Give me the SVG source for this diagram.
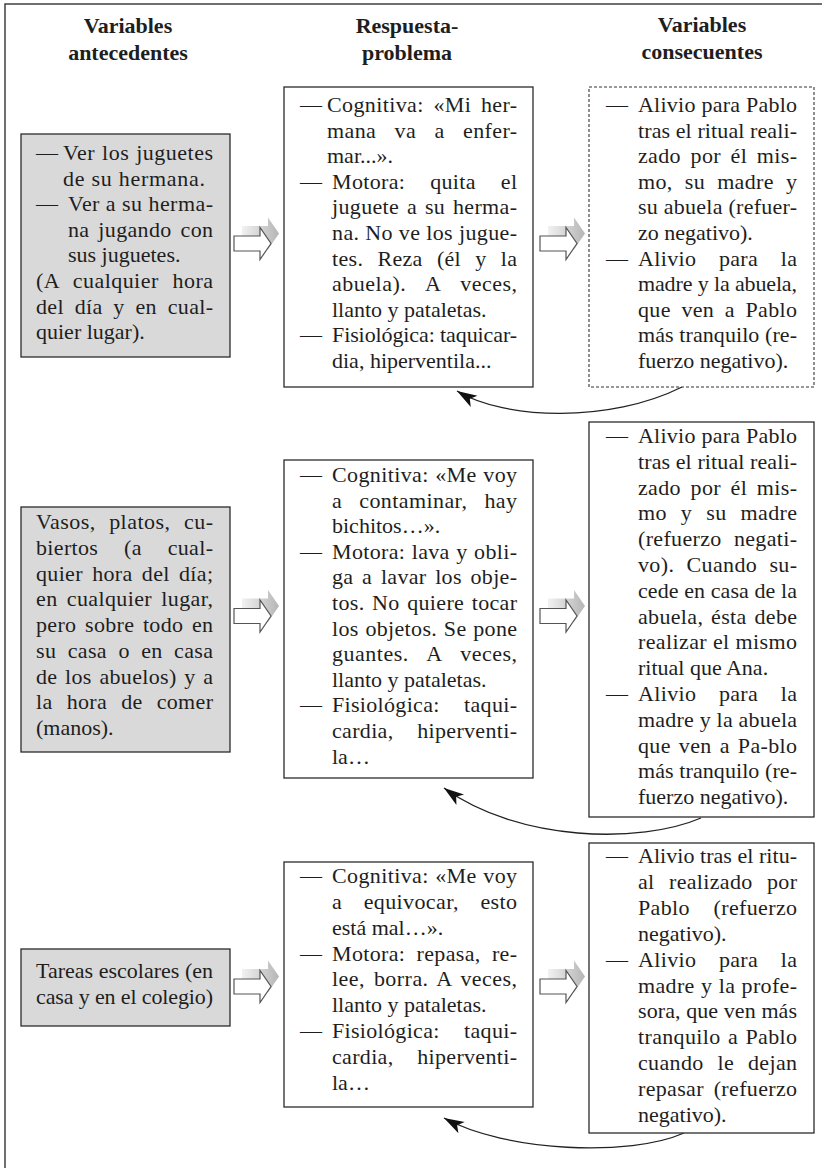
<svg xmlns="http://www.w3.org/2000/svg" xmlns:xlink="http://www.w3.org/1999/xlink" width="822" height="1168" viewBox="0 0 822 1168">
<style>
.t{font-family:"Liberation Serif","Times New Roman",serif;font-size:22px;fill:#1e1e1e}
.h{font-family:"Liberation Serif","Times New Roman",serif;font-weight:bold;font-size:22px;fill:#1e1e1e;text-anchor:middle}
.box{fill:#fff;stroke:#2b2b2b;stroke-width:1.3}
.gray{fill:#d9d9d9;stroke:#2b2b2b;stroke-width:1.3}
.dash{fill:#fff;stroke:#333;stroke-width:1.1;stroke-dasharray:3 2}
.curve{fill:none;stroke:#222;stroke-width:1.3;marker-end:url(#ah)}
.arr{fill:#fff;stroke:#555;stroke-width:1.2}
</style>
<defs>
<linearGradient id="sg" x1="0" y1="0" x2="1" y2="0">
<stop offset="0" stop-color="#f2f2f2"/>
<stop offset="1" stop-color="#b5b5b5"/>
</linearGradient>
<marker id="ah" markerUnits="userSpaceOnUse" markerWidth="24" markerHeight="16" viewBox="-22 -8 24 16" refX="0" refY="0" orient="auto">
<path d="M0,0 L-20,-6.5 L-15,0 L-20,6.5 Z" fill="#111"/>
</marker>
<g id="blk">
<polygon points="8,-17.5 34,-17.5 34,-26 45,-10 34,6 34,-2.5 8,-2.5" fill="url(#sg)"/>
<polygon class="arr" points="0,-7.5 26,-7.5 26,-16 37,0 26,16 26,7.5 0,7.5"/>
</g>
</defs>
<rect x="5" y="4" width="830" height="1175" fill="#fff" stroke="#333" stroke-width="1.4"/>
<g id="headers">
<text class="h" x="128" y="33">Variables</text>
<text class="h" x="128" y="60">antecedentes</text>
<text class="h" x="407" y="33">Respuesta-</text>
<text class="h" x="407" y="60">problema</text>
<text class="h" x="702" y="32">Variables</text>
<text class="h" x="702" y="59">consecuentes</text>
</g>
<g id="connectors">
<use xlink:href="#blk" x="234" y="243.5"/>
<use xlink:href="#blk" x="540" y="243.5"/>
<use xlink:href="#blk" x="234" y="616"/>
<use xlink:href="#blk" x="540" y="616"/>
<use xlink:href="#blk" x="234" y="986.5"/>
<use xlink:href="#blk" x="540" y="986.5"/>
<path class="curve" d="M682,387 C610,423 505,420 457,391"/>
<path class="curve" d="M701,818 C640,844 519,842 444,788"/>
<path class="curve" d="M684,1133 C630,1157 506,1152 444,1118"/>
</g>
<g id="a1">
<rect class="gray" x="21" y="134" width="209" height="223"/>
<text class="t" x="36" y="160">—</text>
<text class="t" x="63" y="160" textLength="150" style="word-spacing:1px">Ver los juguetes</text>
<text class="t" x="63" y="185.6" textLength="142">de su hermana.</text>
<text class="t" x="36" y="211.2">—</text>
<text class="t" x="68" y="211.2" textLength="145">Ver a su herma-</text>
<text class="t" x="68" y="236.8" textLength="145" style="word-spacing:3px">na jugando con</text>
<text class="t" x="68" y="262.4">sus juguetes.</text>
<text class="t" x="36" y="288" textLength="177" style="word-spacing:8px">(A cualquier hora</text>
<text class="t" x="36" y="313.6" textLength="177" style="word-spacing:5px">del día y en cual-</text>
<text class="t" x="36" y="339.2">quier lugar).</text>
</g>
<g id="b1">
<rect class="box" x="284" y="87" width="249" height="300"/>
<text class="t" x="300" y="112">—</text>
<text class="t" x="327" y="112" textLength="190" style="word-spacing:3.8px">Cognitiva: «Mi her-</text>
<text class="t" x="327" y="137.6" textLength="190" style="word-spacing:12.5px">mana va a enfer-</text>
<text class="t" x="327" y="163.2">mar...».</text>
<text class="t" x="300" y="188.8">—</text>
<text class="t" x="332" y="188.8" textLength="185" style="word-spacing:19px">Motora: quita el</text>
<text class="t" x="332" y="214.4" textLength="185" style="word-spacing:2px">juguete a su herma-</text>
<text class="t" x="332" y="240" textLength="185">na. No ve los jugue-</text>
<text class="t" x="332" y="265.6" textLength="185" style="word-spacing:8.4px">tes. Reza (él y la</text>
<text class="t" x="332" y="291.2" textLength="185" style="word-spacing:14px">abuela). A veces,</text>
<text class="t" x="332" y="316.8">llanto y pataletas.</text>
<text class="t" x="300" y="342.4">—</text>
<text class="t" x="332" y="342.4" textLength="185">Fisiológica: taquicar-</text>
<text class="t" x="332" y="368">dia, hiperventila...</text>
</g>
<g id="c1">
<rect class="dash" x="589" y="87" width="225" height="300"/>
<text class="t" x="606" y="112">—</text>
<text class="t" x="638" y="112" textLength="159">Alivio para Pablo</text>
<text class="t" x="638" y="137.6" textLength="159">tras el ritual reali-</text>
<text class="t" x="638" y="163.2" textLength="159" style="word-spacing:3.8px">zado por él mis-</text>
<text class="t" x="638" y="188.8" textLength="159" style="word-spacing:6.2px">mo, su madre y</text>
<text class="t" x="638" y="214.4" textLength="159">su abuela (refuer-</text>
<text class="t" x="638" y="240">zo negativo).</text>
<text class="t" x="606" y="265.6">—</text>
<text class="t" x="638" y="265.6" textLength="159" style="word-spacing:16.8px">Alivio para la</text>
<text class="t" x="638" y="291.2" textLength="159">madre y la abuela,</text>
<text class="t" x="638" y="316.8" textLength="159" style="word-spacing:4.7px">que ven a Pablo</text>
<text class="t" x="638" y="342.4" textLength="159">más tranquilo (re-</text>
<text class="t" x="638" y="368">fuerzo negativo).</text>
</g>
<g id="a2">
<rect class="gray" x="21" y="507" width="209" height="245"/>
<text class="t" x="36" y="529" textLength="177" style="word-spacing:7.5px">Vasos, platos, cu-</text>
<text class="t" x="36" y="554.75" textLength="177" style="word-spacing:20px">biertos (a cual-</text>
<text class="t" x="36" y="580.5" textLength="177" style="word-spacing:3.5px">quier hora del día;</text>
<text class="t" x="36" y="606.25" textLength="177" style="word-spacing:3.4px">en cualquier lugar,</text>
<text class="t" x="36" y="632" textLength="177" style="word-spacing:2.7px">pero sobre todo en</text>
<text class="t" x="36" y="657.75" textLength="177" style="word-spacing:5.6px">su casa o en casa</text>
<text class="t" x="36" y="683.5" textLength="177" style="word-spacing:1.8px">de los abuelos) y a</text>
<text class="t" x="36" y="709.25" textLength="177" style="word-spacing:8.2px">la hora de comer</text>
<text class="t" x="36" y="735">(manos).</text>
</g>
<g id="b2">
<rect class="box" x="284" y="460" width="249" height="318"/>
<text class="t" x="300" y="482">—</text>
<text class="t" x="332" y="482" textLength="185" style="word-spacing:0.7px">Cognitiva: «Me voy</text>
<text class="t" x="332" y="507.6" textLength="185" style="word-spacing:11.2px">a contaminar, hay</text>
<text class="t" x="332" y="533.2">bichitos…».</text>
<text class="t" x="300" y="558.8">—</text>
<text class="t" x="332" y="558.8" textLength="185" style="word-spacing:0.7px">Motora: lava y obli-</text>
<text class="t" x="332" y="584.4" textLength="185" style="word-spacing:2.9px">ga a lavar los obje-</text>
<text class="t" x="332" y="610" textLength="185" style="word-spacing:1.8px">tos. No quiere tocar</text>
<text class="t" x="332" y="635.6" textLength="185" style="word-spacing:0.9px">los objetos. Se pone</text>
<text class="t" x="332" y="661.2" textLength="185" style="word-spacing:12.7px">guantes. A veces,</text>
<text class="t" x="332" y="686.8">llanto y pataletas.</text>
<text class="t" x="300" y="712.4">—</text>
<text class="t" x="332" y="712.4" textLength="185" style="word-spacing:18.6px">Fisiológica: taqui-</text>
<text class="t" x="332" y="738" textLength="185" style="word-spacing:17.9px">cardia, hiperventi-</text>
<text class="t" x="332" y="763.6">la…</text>
</g>
<g id="c2">
<rect class="box" x="589" y="422" width="225" height="395"/>
<text class="t" x="606" y="443">—</text>
<text class="t" x="638" y="443" textLength="159">Alivio para Pablo</text>
<text class="t" x="638" y="468.8" textLength="159">tras el ritual reali-</text>
<text class="t" x="638" y="494.6" textLength="159" style="word-spacing:3.8px">zado por él mis-</text>
<text class="t" x="638" y="520.4" textLength="159" style="word-spacing:8.1px">mo y su madre</text>
<text class="t" x="638" y="546.2" textLength="159" style="word-spacing:6.5px">(refuerzo negati-</text>
<text class="t" x="638" y="572" textLength="159" style="word-spacing:6.4px">vo). Cuando su-</text>
<text class="t" x="638" y="597.8" textLength="159">cede en casa de la</text>
<text class="t" x="638" y="623.6" textLength="159" style="word-spacing:2px">abuela, ésta debe</text>
<text class="t" x="638" y="649.4" textLength="159">realizar el mismo</text>
<text class="t" x="638" y="675.2">ritual que Ana.</text>
<text class="t" x="606" y="701">—</text>
<text class="t" x="638" y="701" textLength="159" style="word-spacing:16.8px">Alivio para la</text>
<text class="t" x="638" y="726.8" textLength="159">madre y la abuela</text>
<text class="t" x="638" y="752.6" textLength="159" style="word-spacing:2.2px">que ven a Pa-blo</text>
<text class="t" x="638" y="778.4" textLength="159">más tranquilo (re-</text>
<text class="t" x="638" y="804.2">fuerzo negativo).</text>
</g>
<g id="a3">
<rect class="gray" x="21" y="949" width="209" height="77"/>
<text class="t" x="36" y="978" textLength="177">Tareas escolares (en</text>
<text class="t" x="36" y="1004" textLength="177">casa y en el colegio)</text>
</g>
<g id="b3">
<rect class="box" x="284" y="862" width="249" height="245"/>
<text class="t" x="300" y="883">—</text>
<text class="t" x="332" y="883" textLength="185" style="word-spacing:0.7px">Cognitiva: «Me voy</text>
<text class="t" x="332" y="908.85" textLength="185" style="word-spacing:15.6px">a equivocar, esto</text>
<text class="t" x="332" y="934.7">está mal…».</text>
<text class="t" x="300" y="960.55">—</text>
<text class="t" x="332" y="960.55" textLength="185" style="word-spacing:5.5px">Motora: repasa, re-</text>
<text class="t" x="332" y="986.4" textLength="185" style="word-spacing:3px">lee, borra. A veces,</text>
<text class="t" x="332" y="1012.25">llanto y pataletas.</text>
<text class="t" x="300" y="1038.1">—</text>
<text class="t" x="332" y="1038.1" textLength="185" style="word-spacing:18.6px">Fisiológica: taqui-</text>
<text class="t" x="332" y="1063.95" textLength="185" style="word-spacing:17.9px">cardia, hiperventi-</text>
<text class="t" x="332" y="1089.8">la…</text>
</g>
<g id="c3">
<rect class="box" x="589" y="843" width="225" height="290"/>
<text class="t" x="606" y="863">—</text>
<text class="t" x="638" y="863" textLength="159">Alivio tras el ritu-</text>
<text class="t" x="638" y="888.9" textLength="159" style="word-spacing:8.6px">al realizado por</text>
<text class="t" x="638" y="914.8" textLength="159" style="word-spacing:17.9px">Pablo (refuerzo</text>
<text class="t" x="638" y="940.7">negativo).</text>
<text class="t" x="606" y="966.6">—</text>
<text class="t" x="638" y="966.6" textLength="159" style="word-spacing:16.8px">Alivio para la</text>
<text class="t" x="638" y="992.5" textLength="159" style="word-spacing:0.5px">madre y la profe-</text>
<text class="t" x="638" y="1018.4" textLength="159">sora, que ven más</text>
<text class="t" x="638" y="1044.3" textLength="159" style="word-spacing:1.6px">tranquilo a Pablo</text>
<text class="t" x="638" y="1070.2" textLength="159" style="word-spacing:8px">cuando le dejan</text>
<text class="t" x="638" y="1096.1" textLength="159" style="word-spacing:4px">repasar (refuerzo</text>
<text class="t" x="638" y="1122">negativo).</text>
</g>
</svg>
